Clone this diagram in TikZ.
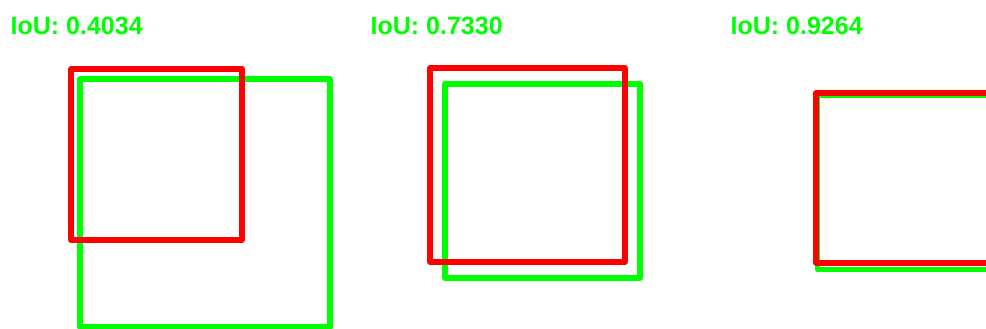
\documentclass[tikz,border=0pt]{standalone}
\usepackage{fontspec}
\setmainfont{Liberation Sans}
\definecolor{gtgreen}{RGB}{0,255,0}
\definecolor{predred}{RGB}{255,0,0}
\begin{document}
\begin{tikzpicture}[x=1pt,y=-1pt,
  gtbox/.style={draw=gtgreen,line width=5.5pt,line join=round,line cap=round},
  predbox/.style={draw=predred,line width=5.5pt,line join=round,line cap=round},
  ioulabel/.style={anchor=base west,inner sep=0pt,text=gtgreen,font=\fontsize{25}{25}\selectfont\bfseries}]
\useasboundingbox (0,0) rectangle (986,329);
\clip (0,0) rectangle (986,329);
% panel 1
\draw[gtbox] (80,79) rectangle (330,327);
\draw[predbox] (71,69) rectangle (242,240);
\node[ioulabel] (l1) at (10.5,34.5) {IoU: 0.4034};
% panel 2
\draw[gtbox] (445,84) rectangle (640,278);
\draw[predbox] (430,68) rectangle (625,262);
\node[ioulabel] (l2) at (370.5,34.5) {IoU: 0.7330};
% panel 3
\draw[gtbox] (817.5,95.5) rectangle (1010,269.5);
\draw[predbox] (816,93) rectangle (1005,263);
\node[ioulabel] (l3) at (730.5,34.5) {IoU: 0.9264};
\end{tikzpicture}
\end{document}
